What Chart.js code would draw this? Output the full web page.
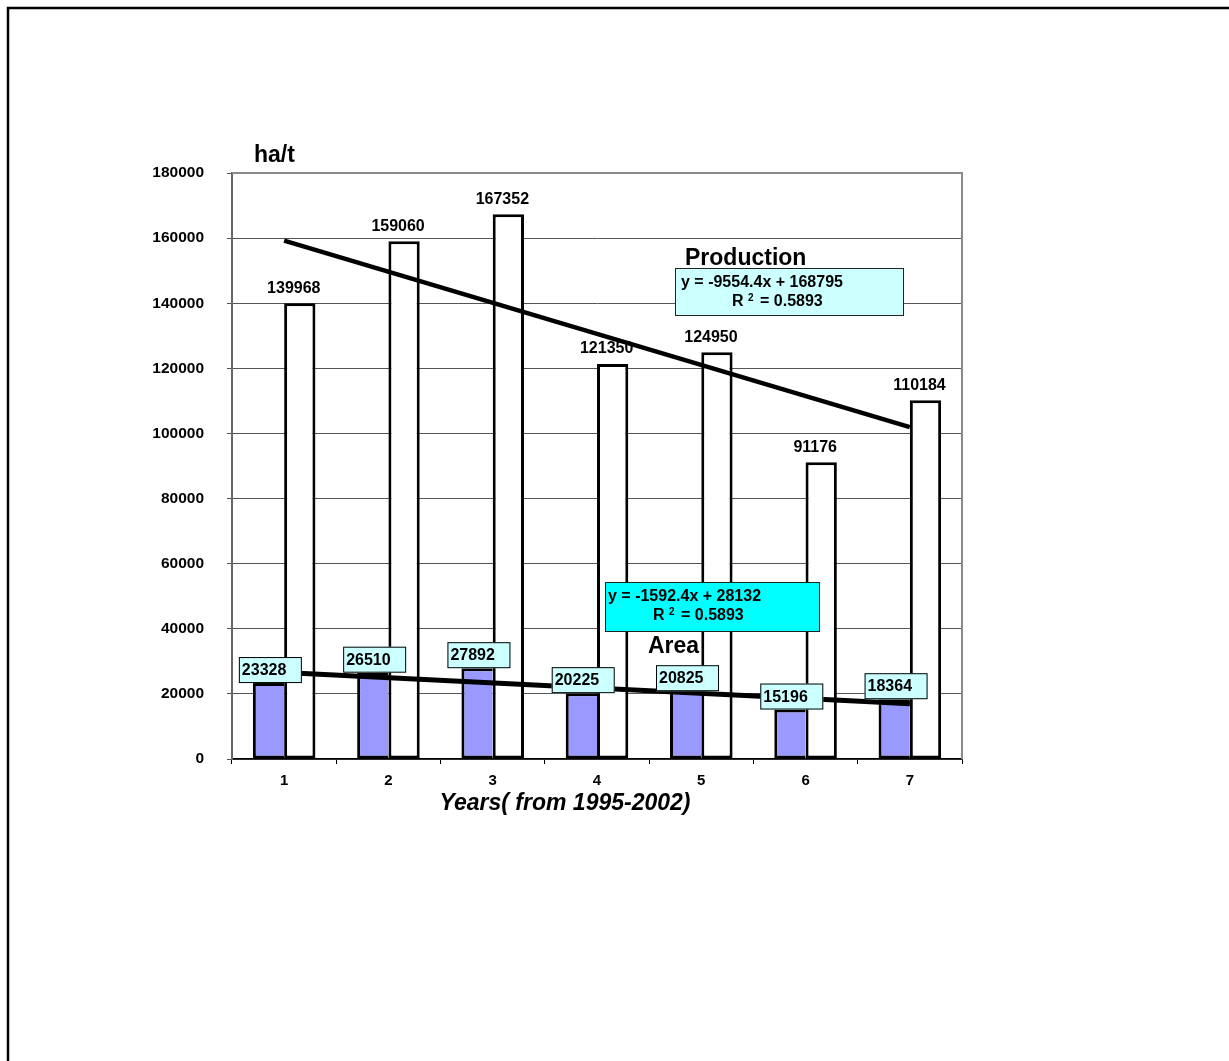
<!DOCTYPE html>
<html>
<head>
<meta charset="utf-8">
<title>Area and production, 1995-2002</title>
<script src="https://cdn.jsdelivr.net/npm/chart.js@4.4.1/dist/chart.umd.min.js"></script>
<style>
  html, body { margin: 0; padding: 0; background: #fff; }
  canvas { display: block; }
</style>
</head>
<body>
<canvas id="chart" width="1229" height="1061"></canvas>
<script>
// ---- data ----
const years = ['1', '2', '3', '4', '5', '6', '7'];
const areaValues = [23328, 26510, 27892, 20225, 20825, 15196, 18364];
const productionValues = [139968, 159060, 167352, 121350, 124950, 91176, 110184];
// linear trend lines, end points at year 1 and year 7
const productionTrend = [159241, null, null, null, null, null, 101914];
const areaTrend = [26540, null, null, null, null, null, 16985];
const yTicks = [0, 20000, 40000, 60000, 80000, 100000, 120000, 140000, 160000, 180000];
const productionEquation = 'y = -9554.4x + 168795';
const areaEquation = 'y = -1592.4x + 28132';
const rSquared = '0.5893';

const FONT = '"Liberation Sans", Arial, Helvetica, sans-serif';

function font(size, weight, style) {
  return (style ? style + ' ' : '') + (weight || 'bold') + ' ' + size + 'px ' + FONT;
}

function drawBox(ctx, x, y, w, h, fill, stroke) {
  ctx.save();
  ctx.fillStyle = fill;
  ctx.fillRect(x, y, w, h);
  ctx.strokeStyle = stroke;
  ctx.lineWidth = 1;
  ctx.strokeRect(x + 0.5, y + 0.5, w - 1, h - 1);
  ctx.restore();
}

function drawEquation(ctx, box, eq, fill) {
  drawBox(ctx, box.x, box.y, box.w, box.h, fill, '#222');
  ctx.save();
  ctx.fillStyle = '#000';
  ctx.textAlign = 'left';
  ctx.textBaseline = 'alphabetic';
  ctx.font = font(16);
  ctx.fillText(eq, box.x + box.eqDx, box.y + 19);
  const rx = box.x + box.rDx;
  const by = box.y + 38;
  ctx.fillText('R', rx, by);
  ctx.font = font(10);
  ctx.fillText('2', rx + 16, by - 5);
  ctx.font = font(16);
  ctx.fillText('= ' + rSquared, rx + 28, by);
  ctx.restore();
}

const decorations = {
  id: 'decorations',
  beforeDraw(chart) {
    const ctx = chart.ctx;
    ctx.save();
    ctx.fillStyle = '#fff';
    ctx.fillRect(0, 0, chart.width, chart.height);
    // outer frame (top and left edges fall inside the page)
    ctx.strokeStyle = '#000';
    ctx.lineWidth = 2.5;
    ctx.beginPath();
    ctx.moveTo(8, chart.height + 5);
    ctx.lineTo(8, 8);
    ctx.lineTo(chart.width + 5, 8);
    ctx.stroke();
    ctx.restore();
  },
  afterDraw(chart) {
    const ctx = chart.ctx;
    const ca = chart.chartArea;

    // plot area frame: top and right sides
    ctx.save();
    ctx.strokeStyle = '#8a8a8a';
    ctx.lineWidth = 2;
    ctx.beginPath();
    ctx.moveTo(ca.left, ca.top);
    ctx.lineTo(ca.right, ca.top);
    ctx.lineTo(ca.right, ca.bottom);
    ctx.stroke();
    ctx.restore();

    // production values above the white bars
    const prodMeta = chart.getDatasetMeta(1);
    ctx.save();
    ctx.fillStyle = '#000';
    ctx.font = font(16);
    ctx.textAlign = 'center';
    ctx.textBaseline = 'middle';
    prodMeta.data.forEach((bar, i) => {
      ctx.fillText(String(productionValues[i]), bar.x - 6, bar.y - 15);
    });
    ctx.restore();

    // area values in small boxes at the top left of the blue bars
    const areaMeta = chart.getDatasetMeta(0);
    areaMeta.data.forEach((bar, i) => {
      const left = bar.x - bar.width / 2 - 14;
      const bottom = bar.y;
      const w = 63, h = 26;
      drawBox(ctx, left, bottom - h, w, h, '#CCFFFF', '#000');
      ctx.save();
      ctx.fillStyle = '#000';
      ctx.font = font(16);
      ctx.textAlign = 'left';
      ctx.textBaseline = 'alphabetic';
      ctx.fillText(String(areaValues[i]), left + 3, bottom - 8);
      ctx.restore();
    });

    // trend equations
    drawEquation(ctx, { x: 675, y: 268, w: 229, h: 48, eqDx: 6, rDx: 57 }, productionEquation, '#CCFFFF');
    drawEquation(ctx, { x: 605, y: 582, w: 215, h: 50, eqDx: 3, rDx: 48 }, areaEquation, '#00FFFF');

    // series names, unit and axis title
    ctx.save();
    ctx.fillStyle = '#000';
    ctx.textAlign = 'left';
    ctx.textBaseline = 'alphabetic';
    ctx.font = font(23);
    ctx.fillText('Production', 685, 265);
    ctx.fillText('Area', 648, 653);
    ctx.fillText('ha/t', ca.left + 22, ca.top - 11);
    ctx.textAlign = 'center';
    ctx.font = font(23, 'bold', 'italic');
    ctx.fillText('Years( from 1995-2002)', (ca.left + ca.right) / 2 - 32, ca.bottom + 51);
    ctx.restore();
  }
};

new Chart(document.getElementById('chart'), {
  type: 'bar',
  data: {
    labels: years,
    datasets: [
      {
        label: 'Area',
        data: areaValues,
        backgroundColor: '#9999FF',
        borderColor: '#000',
        borderWidth: { left: 3, top: 3, bottom: 3, right: 0 },
        borderSkipped: false,
        order: 1
      },
      {
        label: 'Production',
        data: productionValues,
        backgroundColor: '#FFFFFF',
        borderColor: '#000',
        borderWidth: 3,
        borderSkipped: false,
        order: 1
      },
      {
        type: 'line',
        label: 'Production trend',
        data: productionTrend,
        borderColor: '#000',
        borderWidth: 4.5,
        pointRadius: 0,
        spanGaps: true,
        fill: false,
        order: 0
      },
      {
        type: 'line',
        label: 'Area trend',
        data: areaTrend,
        borderColor: '#000',
        borderWidth: 5,
        pointRadius: 0,
        spanGaps: true,
        fill: false,
        order: 0
      }
    ]
  },
  options: {
    responsive: false,
    animation: false,
    devicePixelRatio: 1,
    events: [],
    categoryPercentage: 0.6,
    barPercentage: 1.0,
    layout: { padding: { left: 0, top: 173, right: 267, bottom: 262 } },
    plugins: {
      legend: { display: false },
      tooltip: { enabled: false },
      title: { display: false }
    },
    scales: {
      x: {
        offset: true,
        grid: { drawOnChartArea: false, drawTicks: true, tickLength: 5, color: '#000', offset: true },
        border: { color: '#000', width: 1.5 },
        ticks: { color: '#000', font: { family: FONT, size: 15, weight: 'bold' }, padding: 8, maxRotation: 0 },
        afterFit(scale) { scale.height = 40; }
      },
      y: {
        min: 0,
        max: 180000,
        afterBuildTicks(scale) { scale.ticks = yTicks.map(v => ({ value: v })); },
        grid: { color: '#555', lineWidth: 1, drawTicks: true, tickLength: 5 },
        border: { color: '#666', width: 2 },
        ticks: {
          color: '#000',
          font: { family: FONT, size: 15.5, weight: 'bold' },
          padding: 23,
          callback: v => String(v)
        },
        afterFit(scale) { scale.width = 232; }
      }
    }
  },
  plugins: [decorations]
});
</script>
</body>
</html>
